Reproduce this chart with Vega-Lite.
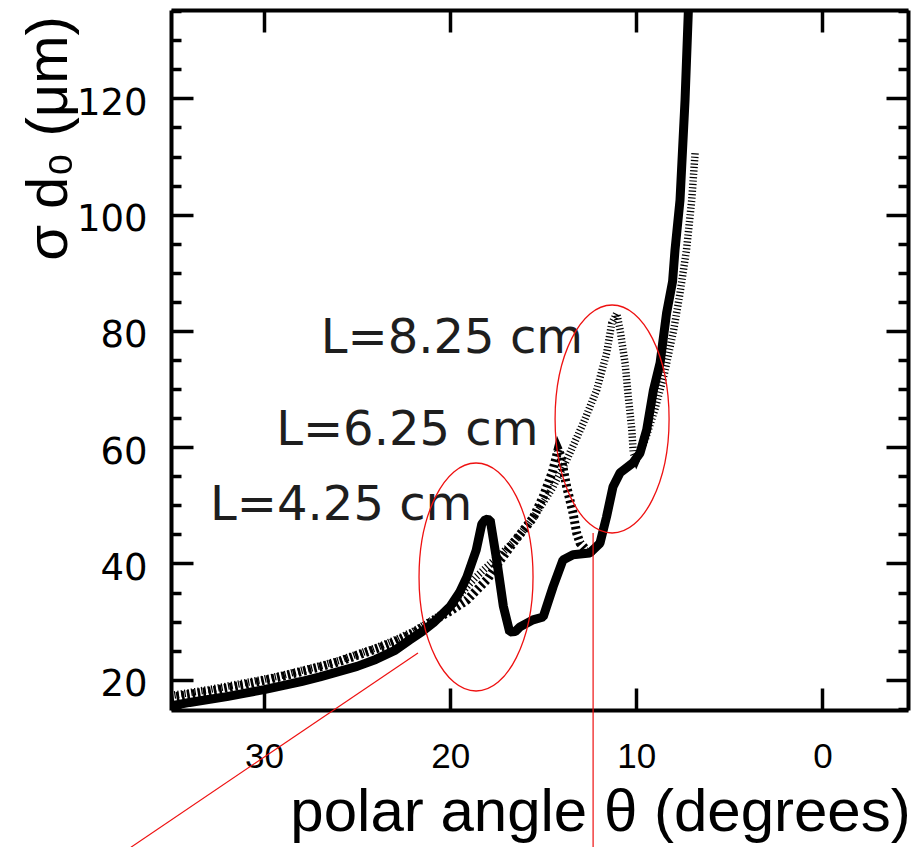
{
  "$schema": "https://vega.github.io/schema/vega-lite/v6.json",
  "width": 737,
  "height": 700,
  "autosize": "none",
  "padding": {"left": 171, "top": 10, "right": 11, "bottom": 137},
  "background": "white",
  "view": {"stroke": null},
  "config": {
    "axis": {
      "domainColor": "black",
      "domainWidth": 4,
      "tickColor": "black",
      "tickWidth": 3.5,
      "grid": false,
      "labelColor": "black",
      "titleColor": "black",
      "labelFont": "Liberation Sans",
      "titleFont": "Liberation Sans",
      "titleFontWeight": "normal"
    }
  },
  "datasets": {
    "curves": [
      {"series": "L=4.25 cm", "theta": 35.0, "sigma": 15.5},
      {"series": "L=4.25 cm", "theta": 34.0, "sigma": 16.1},
      {"series": "L=4.25 cm", "theta": 33.0, "sigma": 16.6},
      {"series": "L=4.25 cm", "theta": 32.0, "sigma": 17.1},
      {"series": "L=4.25 cm", "theta": 31.0, "sigma": 17.7},
      {"series": "L=4.25 cm", "theta": 30.0, "sigma": 18.3},
      {"series": "L=4.25 cm", "theta": 29.0, "sigma": 19.0},
      {"series": "L=4.25 cm", "theta": 28.0, "sigma": 19.7},
      {"series": "L=4.25 cm", "theta": 27.0, "sigma": 20.5},
      {"series": "L=4.25 cm", "theta": 26.0, "sigma": 21.4},
      {"series": "L=4.25 cm", "theta": 25.0, "sigma": 22.3},
      {"series": "L=4.25 cm", "theta": 24.0, "sigma": 23.5},
      {"series": "L=4.25 cm", "theta": 23.0, "sigma": 25.0},
      {"series": "L=4.25 cm", "theta": 22.2, "sigma": 26.8},
      {"series": "L=4.25 cm", "theta": 21.5, "sigma": 28.3},
      {"series": "L=4.25 cm", "theta": 20.9, "sigma": 29.8},
      {"series": "L=4.25 cm", "theta": 20.0, "sigma": 32.6},
      {"series": "L=4.25 cm", "theta": 19.5, "sigma": 35.0},
      {"series": "L=4.25 cm", "theta": 19.1, "sigma": 37.7},
      {"series": "L=4.25 cm", "theta": 18.6, "sigma": 42.3},
      {"series": "L=4.25 cm", "theta": 18.3, "sigma": 46.8},
      {"series": "L=4.25 cm", "theta": 18.1, "sigma": 47.6},
      {"series": "L=4.25 cm", "theta": 17.85, "sigma": 47.5},
      {"series": "L=4.25 cm", "theta": 17.5, "sigma": 40.6},
      {"series": "L=4.25 cm", "theta": 17.14, "sigma": 32.6},
      {"series": "L=4.25 cm", "theta": 16.8, "sigma": 28.2},
      {"series": "L=4.25 cm", "theta": 16.5, "sigma": 28.3},
      {"series": "L=4.25 cm", "theta": 16.25, "sigma": 29.1},
      {"series": "L=4.25 cm", "theta": 15.55, "sigma": 30.3},
      {"series": "L=4.25 cm", "theta": 15.0, "sigma": 30.8},
      {"series": "L=4.25 cm", "theta": 14.47, "sigma": 36.0},
      {"series": "L=4.25 cm", "theta": 13.94, "sigma": 40.6},
      {"series": "L=4.25 cm", "theta": 13.4, "sigma": 41.5},
      {"series": "L=4.25 cm", "theta": 12.5, "sigma": 41.8},
      {"series": "L=4.25 cm", "theta": 11.95, "sigma": 43.5},
      {"series": "L=4.25 cm", "theta": 11.6, "sigma": 48.0},
      {"series": "L=4.25 cm", "theta": 11.25, "sigma": 53.2},
      {"series": "L=4.25 cm", "theta": 10.87, "sigma": 55.6},
      {"series": "L=4.25 cm", "theta": 10.18, "sigma": 57.3},
      {"series": "L=4.25 cm", "theta": 9.8, "sigma": 59.0},
      {"series": "L=4.25 cm", "theta": 9.44, "sigma": 63.0},
      {"series": "L=4.25 cm", "theta": 9.08, "sigma": 69.8},
      {"series": "L=4.25 cm", "theta": 8.72, "sigma": 74.5},
      {"series": "L=4.25 cm", "theta": 8.37, "sigma": 83.1},
      {"series": "L=4.25 cm", "theta": 8.05, "sigma": 88.5},
      {"series": "L=4.25 cm", "theta": 7.92, "sigma": 93.9},
      {"series": "L=4.25 cm", "theta": 7.65, "sigma": 102.5},
      {"series": "L=4.25 cm", "theta": 7.38, "sigma": 119.7},
      {"series": "L=4.25 cm", "theta": 7.2, "sigma": 135.2},
      {"series": "L=4.25 cm", "theta": 7.1, "sigma": 142.0},

      {"series": "L=6.25 cm", "theta": 35.0, "sigma": 17.0},
      {"series": "L=6.25 cm", "theta": 34.0, "sigma": 17.5},
      {"series": "L=6.25 cm", "theta": 33.0, "sigma": 18.0},
      {"series": "L=6.25 cm", "theta": 32.0, "sigma": 18.6},
      {"series": "L=6.25 cm", "theta": 31.0, "sigma": 19.2},
      {"series": "L=6.25 cm", "theta": 30.0, "sigma": 19.9},
      {"series": "L=6.25 cm", "theta": 29.0, "sigma": 20.6},
      {"series": "L=6.25 cm", "theta": 28.0, "sigma": 21.4},
      {"series": "L=6.25 cm", "theta": 27.0, "sigma": 22.2},
      {"series": "L=6.25 cm", "theta": 26.0, "sigma": 23.1},
      {"series": "L=6.25 cm", "theta": 25.0, "sigma": 24.2},
      {"series": "L=6.25 cm", "theta": 24.0, "sigma": 25.3},
      {"series": "L=6.25 cm", "theta": 23.0, "sigma": 26.5},
      {"series": "L=6.25 cm", "theta": 22.0, "sigma": 28.0},
      {"series": "L=6.25 cm", "theta": 21.0, "sigma": 30.0},
      {"series": "L=6.25 cm", "theta": 20.0, "sigma": 31.8},
      {"series": "L=6.25 cm", "theta": 19.1, "sigma": 33.7},
      {"series": "L=6.25 cm", "theta": 18.0, "sigma": 37.3},
      {"series": "L=6.25 cm", "theta": 17.3, "sigma": 40.6},
      {"series": "L=6.25 cm", "theta": 16.5, "sigma": 44.0},
      {"series": "L=6.25 cm", "theta": 15.55, "sigma": 47.8},
      {"series": "L=6.25 cm", "theta": 15.0, "sigma": 51.5},
      {"series": "L=6.25 cm", "theta": 14.5, "sigma": 55.8},
      {"series": "L=6.25 cm", "theta": 14.2, "sigma": 59.6},
      {"series": "L=6.25 cm", "theta": 14.05, "sigma": 58.5},
      {"series": "L=6.25 cm", "theta": 13.74, "sigma": 53.2},
      {"series": "L=6.25 cm", "theta": 13.4, "sigma": 48.7},
      {"series": "L=6.25 cm", "theta": 13.2, "sigma": 45.2},
      {"series": "L=6.25 cm", "theta": 13.02, "sigma": 43.5},
      {"series": "L=6.25 cm", "theta": 12.6, "sigma": 42.0},
      {"series": "L=6.25 cm", "theta": 12.3, "sigma": 42.2},

      {"series": "L=8.25 cm", "theta": 35.0, "sigma": 17.3},
      {"series": "L=8.25 cm", "theta": 34.0, "sigma": 17.8},
      {"series": "L=8.25 cm", "theta": 33.0, "sigma": 18.3},
      {"series": "L=8.25 cm", "theta": 32.0, "sigma": 18.9},
      {"series": "L=8.25 cm", "theta": 31.0, "sigma": 19.5},
      {"series": "L=8.25 cm", "theta": 30.0, "sigma": 20.1},
      {"series": "L=8.25 cm", "theta": 29.0, "sigma": 20.8},
      {"series": "L=8.25 cm", "theta": 28.0, "sigma": 21.6},
      {"series": "L=8.25 cm", "theta": 27.0, "sigma": 22.4},
      {"series": "L=8.25 cm", "theta": 26.0, "sigma": 23.3},
      {"series": "L=8.25 cm", "theta": 25.0, "sigma": 24.4},
      {"series": "L=8.25 cm", "theta": 24.0, "sigma": 25.5},
      {"series": "L=8.25 cm", "theta": 23.0, "sigma": 26.8},
      {"series": "L=8.25 cm", "theta": 22.0, "sigma": 28.3},
      {"series": "L=8.25 cm", "theta": 21.0, "sigma": 30.2},
      {"series": "L=8.25 cm", "theta": 20.0, "sigma": 32.3},
      {"series": "L=8.25 cm", "theta": 19.5, "sigma": 34.6},
      {"series": "L=8.25 cm", "theta": 19.1, "sigma": 36.0},
      {"series": "L=8.25 cm", "theta": 18.6, "sigma": 37.7},
      {"series": "L=8.25 cm", "theta": 18.0, "sigma": 39.5},
      {"series": "L=8.25 cm", "theta": 17.3, "sigma": 41.5},
      {"series": "L=8.25 cm", "theta": 16.5, "sigma": 44.0},
      {"series": "L=8.25 cm", "theta": 15.5, "sigma": 48.0},
      {"series": "L=8.25 cm", "theta": 14.5, "sigma": 53.0},
      {"series": "L=8.25 cm", "theta": 13.74, "sigma": 57.8},
      {"series": "L=8.25 cm", "theta": 12.85, "sigma": 64.1},
      {"series": "L=8.25 cm", "theta": 12.13, "sigma": 69.8},
      {"series": "L=8.25 cm", "theta": 11.59, "sigma": 76.2},
      {"series": "L=8.25 cm", "theta": 11.32, "sigma": 81.3},
      {"series": "L=8.25 cm", "theta": 11.05, "sigma": 83.0},
      {"series": "L=8.25 cm", "theta": 10.87, "sigma": 80.2},
      {"series": "L=8.25 cm", "theta": 10.6, "sigma": 74.4},
      {"series": "L=8.25 cm", "theta": 10.43, "sigma": 68.7},
      {"series": "L=8.25 cm", "theta": 10.24, "sigma": 63.0},
      {"series": "L=8.25 cm", "theta": 10.16, "sigma": 59.0},
      {"series": "L=8.25 cm", "theta": 10.0, "sigma": 57.8},
      {"series": "L=8.25 cm", "theta": 9.5, "sigma": 61.5},
      {"series": "L=8.25 cm", "theta": 9.0, "sigma": 66.5},
      {"series": "L=8.25 cm", "theta": 8.5, "sigma": 72.5},
      {"series": "L=8.25 cm", "theta": 8.0, "sigma": 80.0},
      {"series": "L=8.25 cm", "theta": 7.65, "sigma": 86.5},
      {"series": "L=8.25 cm", "theta": 7.3, "sigma": 94.0},
      {"series": "L=8.25 cm", "theta": 7.02, "sigma": 102.5},
      {"series": "L=8.25 cm", "theta": 6.84, "sigma": 110.6}
    ],
    "labels": [
      {"text": "L=8.25 cm", "theta": 26.95, "sigma": 76.2},
      {"text": "L=6.25 cm", "theta": 29.35, "sigma": 60.4},
      {"text": "L=4.25 cm", "theta": 32.9, "sigma": 47.5}
    ],
    "ellipses": [
      {"theta": 18.61, "sigma": 37.68},
      {"theta": 11.3, "sigma": 64.85}
    ],
    "pointers": [
      {"theta": 37.15, "sigma": -8.8, "theta2": 21.73, "sigma2": 24.6},
      {"theta": 12.32, "sigma": -8.8, "theta2": 12.32, "sigma2": 45.24}
    ]
  },
  "resolve": {"axis": {"x": "independent", "y": "independent"}},
  "layer": [
    {
      "data": {"name": "curves"},
      "transform": [{"filter": "datum.series === 'L=8.25 cm'"}],
      "mark": {"type": "line", "color": "black", "strokeWidth": 7.5, "strokeDash": [1.2, 2.2], "clip": true},
      "encoding": {
        "x": {
          "field": "theta", "type": "quantitative",
          "scale": {"domain": [35, -4.6], "nice": false, "zero": false},
          "axis": {
            "orient": "bottom",
            "values": [30, 20, 10, 0],
            "tickSize": -22,
            "labelFontSize": 35,
            "labelPadding": 51,
            "labelFlush": false,
            "labelOverlap": false,
            "title": "polar angle θ (degrees)",
            "titleFontSize": 60,
            "titleX": 429,
            "titleY": 120,
            "titleAlign": "center",
            "titleBaseline": "alphabetic"
          }
        },
        "y": {
          "field": "sigma", "type": "quantitative",
          "scale": {"domain": [14.8, 135.2], "nice": false, "zero": false},
          "axis": {
            "orient": "left",
            "values": [15, 20, 25, 30, 35, 40, 45, 50, 55, 60, 65, 70, 75, 80, 85, 90, 95, 100, 105, 110, 115, 120, 125, 130, 135],
            "tickSize": {"condition": {"test": "datum.value % 20 === 0", "value": -22}, "value": -10},
            "labelExpr": "datum.value % 20 === 0 ? datum.label : ''",
            "labelFont": "DejaVu Sans",
            "labelFontSize": 37,
            "labelPadding": 46,
            "labelOffset": 5,
            "labelFlush": false,
            "labelOverlap": false,
            "title": "σ d₀ (μm)",
            "titleFontSize": 58,
            "titleAngle": 270,
            "titleX": -105,
            "titleY": 128,
            "titleAlign": "center",
            "titleBaseline": "alphabetic"
          }
        }
      }
    },
    {
      "data": {"name": "curves"},
      "transform": [{"filter": "datum.series === 'L=6.25 cm'"}],
      "mark": {"type": "line", "color": "black", "strokeWidth": 9, "strokeDash": [2.6, 2.8], "clip": true},
      "encoding": {
        "x": {
          "field": "theta", "type": "quantitative",
          "scale": {"domain": [35, -4.6], "nice": false, "zero": false},
          "axis": {"orient": "top", "values": [30, 20, 10, 0], "tickSize": -22, "labels": false, "title": null}
        },
        "y": {
          "field": "sigma", "type": "quantitative",
          "scale": {"domain": [14.8, 135.2], "nice": false, "zero": false},
          "axis": {
            "orient": "right",
            "values": [15, 20, 25, 30, 35, 40, 45, 50, 55, 60, 65, 70, 75, 80, 85, 90, 95, 100, 105, 110, 115, 120, 125, 130, 135],
            "tickSize": {"condition": {"test": "datum.value % 20 === 0", "value": -22}, "value": -10},
            "labels": false,
            "title": null
          }
        }
      }
    },
    {
      "data": {"name": "curves"},
      "transform": [{"filter": "datum.series === 'L=4.25 cm'"}],
      "mark": {"type": "line", "color": "black", "strokeWidth": 9, "strokeJoin": "bevel", "clip": true},
      "encoding": {
        "x": {"field": "theta", "type": "quantitative", "scale": {"domain": [35, -4.6], "nice": false, "zero": false}, "axis": null},
        "y": {"field": "sigma", "type": "quantitative", "scale": {"domain": [14.8, 135.2], "nice": false, "zero": false}, "axis": null}
      }
    },
    {
      "data": {"name": "labels"},
      "mark": {"type": "text", "font": "DejaVu Sans", "fontSize": 48, "color": "#1e1e1e", "align": "left", "baseline": "alphabetic"},
      "encoding": {
        "x": {"field": "theta", "type": "quantitative", "scale": {"domain": [35, -4.6], "nice": false, "zero": false}, "axis": null},
        "y": {"field": "sigma", "type": "quantitative", "scale": {"domain": [14.8, 135.2], "nice": false, "zero": false}, "axis": null},
        "text": {"field": "text"}
      }
    },
    {
      "data": {"name": "ellipses"},
      "mark": {"type": "point", "shape": "M0,-1A0.5,1,0,1,1,0,1A0.5,1,0,1,1,0,-1Z", "size": 51984, "filled": false, "stroke": "#ee1111", "strokeWidth": 1.3, "opacity": 1},
      "encoding": {
        "x": {"field": "theta", "type": "quantitative", "scale": {"domain": [35, -4.6], "nice": false, "zero": false}, "axis": null},
        "y": {"field": "sigma", "type": "quantitative", "scale": {"domain": [14.8, 135.2], "nice": false, "zero": false}, "axis": null}
      }
    },
    {
      "data": {"name": "pointers"},
      "mark": {"type": "rule", "color": "#ee1111", "strokeWidth": 1.2},
      "encoding": {
        "x": {"field": "theta", "type": "quantitative", "scale": {"domain": [35, -4.6], "nice": false, "zero": false}, "axis": null},
        "y": {"field": "sigma", "type": "quantitative", "scale": {"domain": [14.8, 135.2], "nice": false, "zero": false}, "axis": null},
        "x2": {"field": "theta2"},
        "y2": {"field": "sigma2"}
      }
    }
  ]
}
